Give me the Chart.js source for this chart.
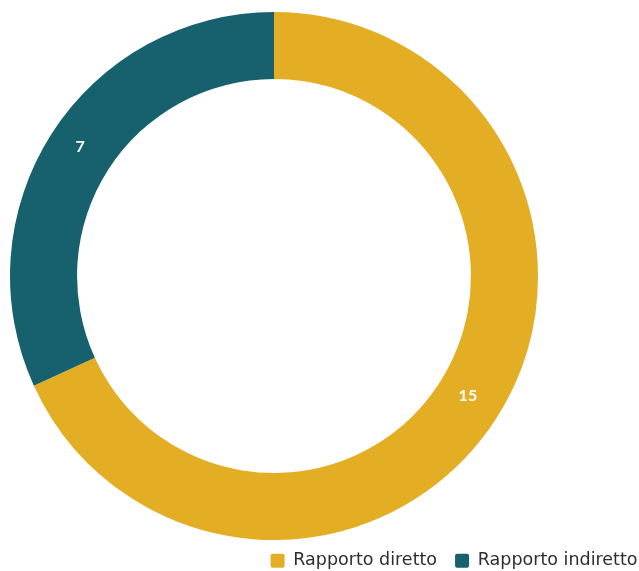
<!DOCTYPE html>
<html>
<head>
<meta charset="utf-8">
<script src="https://cdn.jsdelivr.net/npm/chart.js@4"></script>
<style>
  html, body { margin: 0; padding: 0; background: #fff; }
  #wrap { width: 639px; height: 571px; position: relative; }
</style>
</head>
<body>
<div id="wrap"><canvas id="chart"></canvas></div>
<script>
const categories = ['Rapporto diretto', 'Rapporto indiretto'];
const counts = [15, 7];
const sliceColors = ['#E4AE24', '#17606E'];

// Keeps the ring on the left, with the legend strip along the bottom edge.
const ringArea = {
  id: 'ringArea',
  afterLayout(chart) {
    const a = chart.chartArea;
    a.left = 10;
    a.right = 538;
    a.top = 12;
    a.bottom = 540;
    a.width = a.right - a.left;
    a.height = a.bottom - a.top;
    const lg = chart.legend;
    const pad = lg.options.labels.padding;
    lg.top = 552 - pad;
    lg.bottom = lg.top + lg.height;
    lg.right = 655.5;
    lg.left = lg.right - lg.width;
  }
};

// Writes each slice's value in white at the middle of its arc.
const sliceValues = {
  id: 'sliceValues',
  afterDatasetsDraw(chart) {
    const ctx = chart.ctx;
    const meta = chart.getDatasetMeta(0);
    ctx.save();
    ctx.font = 'bold 16px Lato, "Noto Sans", sans-serif';
    ctx.fillStyle = '#ffffff';
    ctx.textAlign = 'center';
    ctx.textBaseline = 'middle';
    meta.data.forEach((arc, i) => {
      const p = arc.tooltipPosition();
      ctx.fillText(String(counts[i]), p.x, p.y - 5);
    });
    ctx.restore();
  }
};

new Chart(document.getElementById('chart'), {
  type: 'doughnut',
  data: {
    labels: categories,
    datasets: [{
      data: counts,
      backgroundColor: sliceColors,
      borderWidth: 0
    }]
  },
  options: {
    responsive: true,
    maintainAspectRatio: false,
    animation: false,
    cutout: '74.6%',
    layout: { padding: 0 },
    plugins: {
      tooltip: { enabled: false },
      legend: {
        position: 'bottom',
        align: 'end',
        labels: {
          boxWidth: 14,
          boxHeight: 14,
          padding: 18,
          useBorderRadius: true,
          borderRadius: 2,
          color: '#2e2e2e',
          font: { family: '"DejaVu Sans", sans-serif', size: 17.5 }
        }
      }
    }
  },
  plugins: [ringArea, sliceValues]
});
</script>
</body>
</html>
